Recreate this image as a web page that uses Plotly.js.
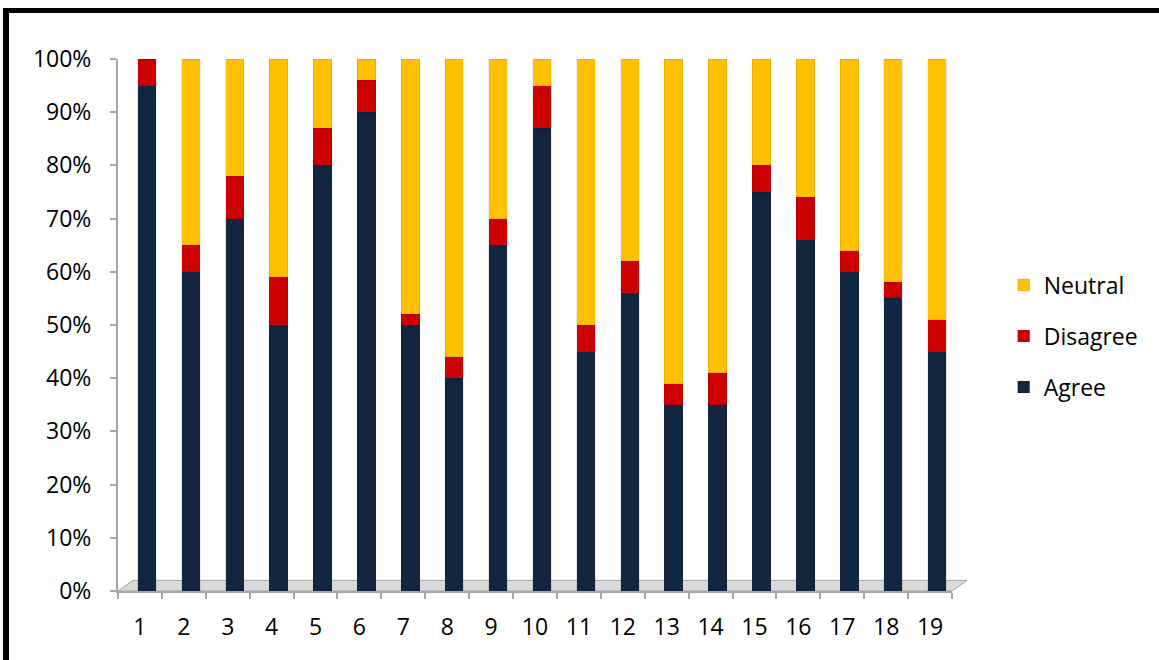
<!DOCTYPE html>
<html>
<head>
<meta charset="utf-8">
<script src="https://cdn.plot.ly/plotly-3.0.1.min.js"></script>
<style>
  html, body { margin: 0; padding: 0; background: #ffffff; }
  #chart { position: absolute; left: 0; top: 0; width: 1159px; height: 660px; }
  #frame { position: absolute; left: 3px; top: 8px; width: 1200px; height: 700px;
           border-left: 6px solid #000; border-top: 5px solid #000; pointer-events: none; }
</style>
</head>
<body>
<div id="chart"></div>
<div id="frame"></div>
<script>
const categories = ['1','2','3','4','5','6','7','8','9','10','11','12','13','14','15','16','17','18','19'];
const agree    = [95, 60, 70, 50, 80, 90, 50, 40, 65, 87, 45, 56, 35, 35, 75, 66, 60, 55, 45];
const disagree = [ 5,  5,  8,  9,  7,  6,  2,  4,  5,  8,  5,  6,  4,  6,  5,  8,  4,  3,  6];
const neutral  = [ 0, 35, 22, 41, 13,  4, 48, 56, 30,  5, 50, 38, 61, 59, 20, 26, 36, 42, 49];
const yTicks   = [0, 10, 20, 30, 40, 50, 60, 70, 80, 90, 100];

const FONT = 'Open Sans, Lato, sans-serif';
const FS = 23;
function mk(name, vals, color, group, rank) {
  return {
    type: 'bar', name: name, x: categories, y: vals,
    width: 0.42, offset: -0.05,
    legendgroup: group, legendrank: rank,
    marker: { color: color, line: { color: 'rgba(0,0,0,0.15)', width: 0.5 } },
    hoverinfo: 'name+y'
  };
}
const data = [
  mk('Agree', agree, '#12263f', 'a', 3),
  mk('Disagree', disagree, '#cc0000', 'd', 2),
  mk('Neutral', neutral, '#ffc000', 'n', 1)
];

const layout = {
  width: 1159, height: 660,
  margin: { l: 118, r: 207, t: 59, b: 69 },
  paper_bgcolor: '#ffffff', plot_bgcolor: '#ffffff',
  barmode: 'stack',
  showlegend: true,
  font: { family: FONT, size: FS, color: '#000' },
  xaxis: {
    type: 'category', range: [-0.5, 18.5],
    showgrid: false, zeroline: false,
    showline: true, linecolor: '#a6a6a6', linewidth: 2,
    ticks: 'outside', tickson: 'boundaries', ticklen: 6, tickcolor: '#a6a6a6', tickwidth: 2,
    ticklabelstandoff: 14,
    tickfont: { family: FONT, size: FS, color: '#000' },
    fixedrange: true
  },
  yaxis: {
    range: [0, 100],
    tickvals: yTicks, ticktext: yTicks.map(v => v + '%'),
    showgrid: false, zeroline: false,
    showline: true, linecolor: '#a6a6a6', linewidth: 2,
    ticks: 'outside', ticklen: 6, tickcolor: '#a6a6a6', tickwidth: 2,
    ticklabelstandoff: 14,
    tickfont: { family: FONT, size: FS, color: '#000' },
    fixedrange: true
  },
  legend: {
    x: 1.062, xanchor: 'left', y: 0.479, yanchor: 'middle',
    traceorder: 'grouped', tracegroupgap: 18,
    font: { family: FONT, size: FS, color: '#000' },
    bgcolor: 'rgba(0,0,0,0)', itemwidth: 30
  },
  shapes: [{
    type: 'path', xref: 'paper', yref: 'paper', layer: 'below',
    path: 'M 0 0 L 1 0 L 1.018 0.02 L 0.018 0.02 Z',
    fillcolor: '#d9d9d9', line: { color: '#a6a6a6', width: 1 }
  }]
};

Plotly.newPlot('chart', data, layout, { displayModeBar: false, staticPlot: true });
</script>
</body>
</html>
